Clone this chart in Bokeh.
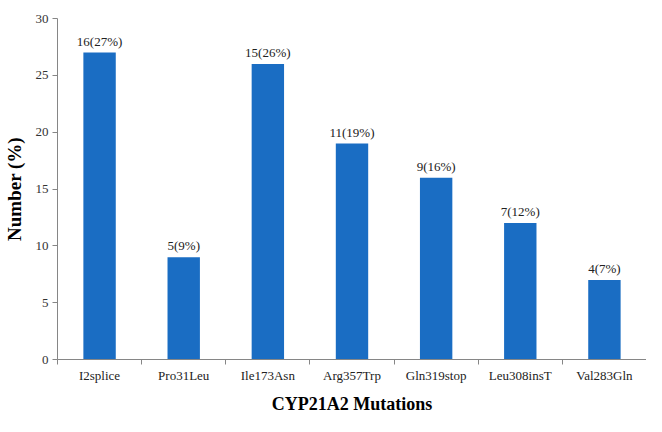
from bokeh.plotting import figure
from bokeh.models import ColumnDataSource, FixedTicker, Range1d
from bokeh.core.properties import value
from bokeh.embed import file_html
from bokeh.resources import INLINE

categories = ["I2splice", "Pro31Leu", "Ile173Asn", "Arg357Trp", "Gln319stop", "Leu308insT", "Val283Gln"]
percent = [27, 9, 26, 19, 16, 12, 7]
bar_labels = ["16(27%)", "5(9%)", "15(26%)", "11(19%)", "9(16%)", "7(12%)", "4(7%)"]
y_ticks = [0, 5, 10, 15, 20, 25, 30]

xpos = [i + 0.5 for i in range(len(categories))]
src = ColumnDataSource(dict(x=xpos, top=percent, label=bar_labels, cat=categories))

p = figure(width=646, height=416, output_backend="svg", toolbar_location=None,
           x_range=Range1d(0, len(categories)), y_range=Range1d(0, 30),
           min_border_left=55, min_border_right=0, min_border_top=18, min_border_bottom=50)
p.outline_line_color = None
p.xgrid.visible = False
p.ygrid.visible = False

p.vbar(x="x", top="top", width=0.385, source=src, fill_color="#1A6DC3", line_color=None)
p.text(x="x", y="top", text="label", source=src, text_align="center", text_baseline="bottom",
       y_offset=-4, text_font=value("Liberation Serif"), text_font_size="13px", text_color="#222222")

axis_col = "#868686"
font = "Liberation Serif"

xa = p.xaxis[0]
xa.ticker = FixedTicker(ticks=xpos, minor_ticks=list(range(len(categories) + 1)))
xa.major_label_overrides = {x: c for x, c in zip(xpos, categories)}
xa.major_tick_out = 0
xa.major_tick_in = 0
xa.minor_tick_out = 5
xa.minor_tick_in = 0
xa.minor_tick_line_color = axis_col
xa.axis_line_color = axis_col
xa.major_label_text_font = font
xa.major_label_text_font_size = "13px"
xa.major_label_text_color = "#222222"
xa.major_label_standoff = 3
xa.axis_label = "CYP21A2 Mutations"
xa.axis_label_text_font = font
xa.axis_label_text_font_style = "bold"
xa.axis_label_text_font_size = "18px"
xa.axis_label_text_color = "#000000"
xa.axis_label_standoff = 8

ya = p.yaxis[0]
ya.ticker = FixedTicker(ticks=y_ticks, minor_ticks=[])
ya.major_tick_out = 5
ya.major_tick_in = 0
ya.major_tick_line_color = axis_col
ya.axis_line_color = axis_col
ya.major_label_text_font = font
ya.major_label_text_font_size = "13px"
ya.major_label_text_color = "#333333"
ya.major_label_standoff = 4
ya.axis_label = "Number (%)"
ya.axis_label_text_font = font
ya.axis_label_text_font_style = "bold"
ya.axis_label_text_font_size = "19px"
ya.axis_label_text_color = "#000000"
ya.axis_label_standoff = 8

open("out.html", "w").write(file_html(p, INLINE))
